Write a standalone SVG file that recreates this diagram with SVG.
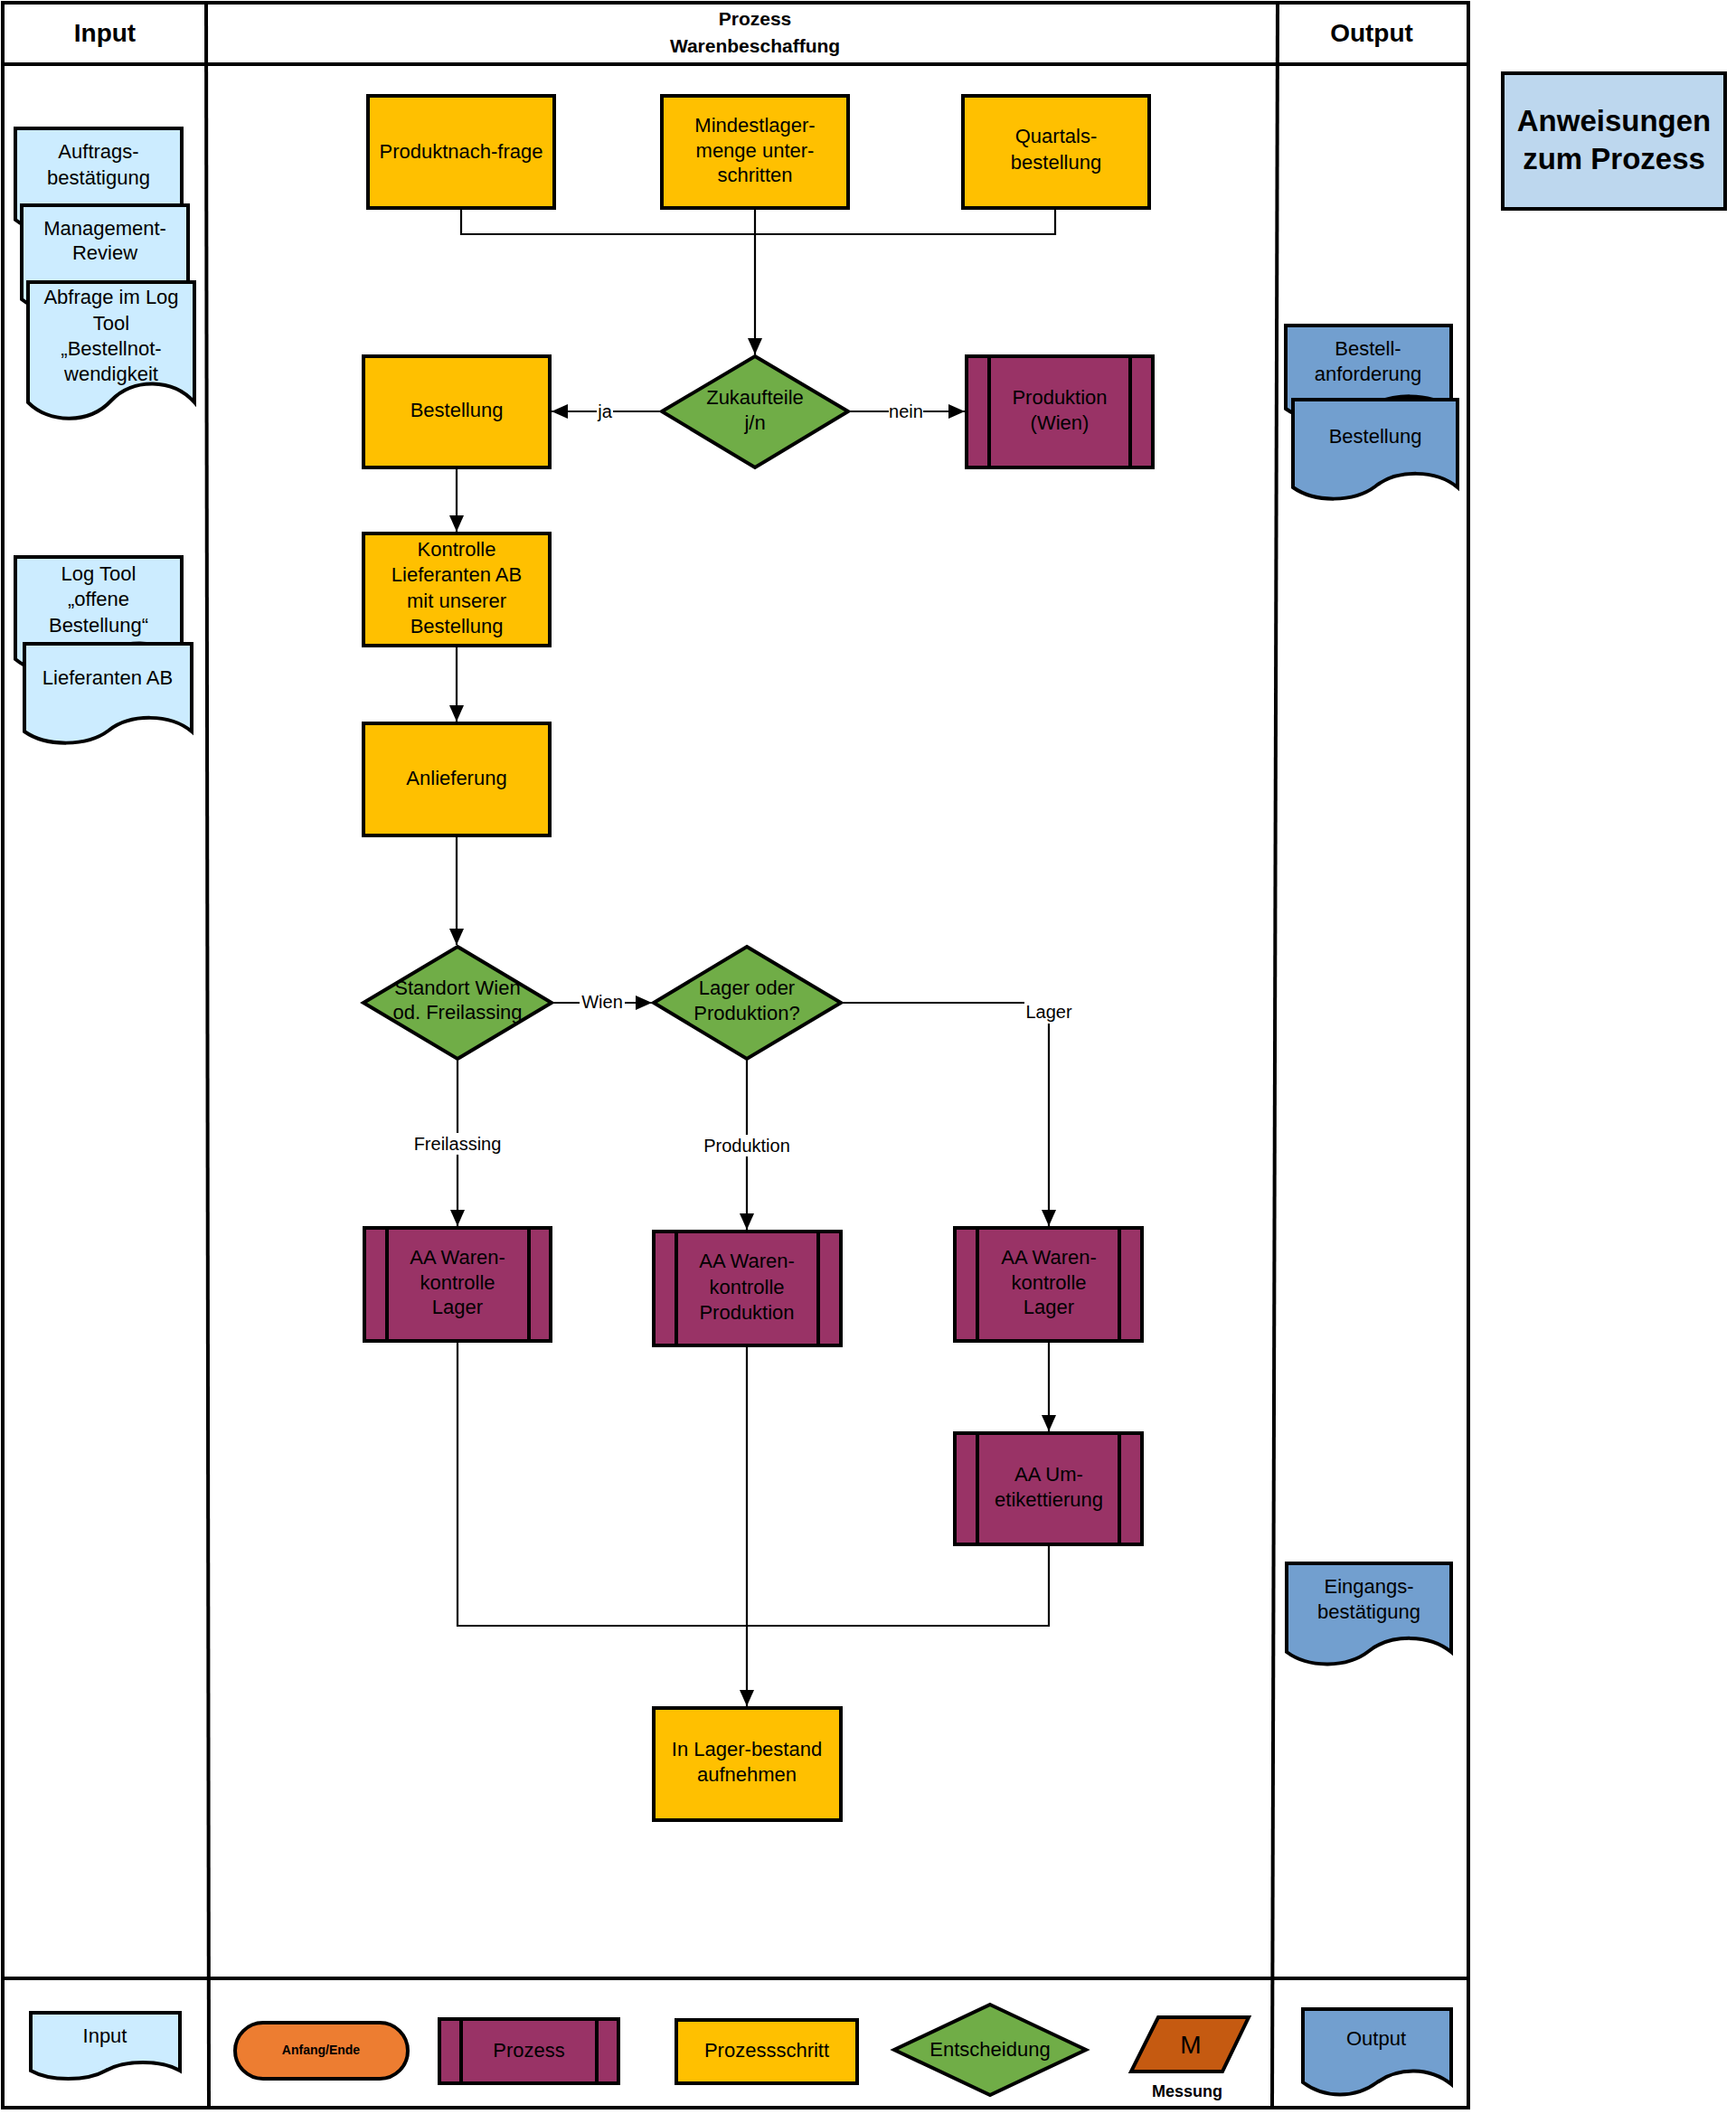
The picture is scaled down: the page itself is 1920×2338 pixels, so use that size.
<svg xmlns="http://www.w3.org/2000/svg" width="1920" height="2338" viewBox="0 0 1920 2338">
<defs>
<marker id="arr" viewBox="0 0 18 16" refX="18" refY="8" markerWidth="18" markerHeight="16" markerUnits="userSpaceOnUse" orient="auto">
<path d="M0,0 L18,8 L0,16 Z" fill="#000"/>
</marker>
<style>
.frame{fill:none;stroke:#000;stroke-width:4}
.step{fill:#FFC000;stroke:#000;stroke-width:4}
.proc{fill:#993366;stroke:#000;stroke-width:4}
.pl{stroke:#000;stroke-width:4}
.dec{fill:#70AD47;stroke:#000;stroke-width:4}
.din{fill:#CCECFF;stroke:#000;stroke-width:4}
.dout{fill:#729FCF;stroke:#000;stroke-width:4}
.con{fill:none;stroke:#000;stroke-width:2.2}
.t{font-family:"Liberation Sans",Arial,sans-serif;font-size:22px;fill:#000;text-anchor:middle}
.lbl{font-family:"Liberation Sans",Arial,sans-serif;font-size:20px;fill:#000;text-anchor:middle}
.h{font-family:"Liberation Sans",Arial,sans-serif;font-size:28px;font-weight:bold;fill:#000;text-anchor:middle}
.h2{font-family:"Liberation Sans",Arial,sans-serif;font-size:21px;font-weight:bold;fill:#000;text-anchor:middle}
.big{font-family:"Liberation Sans",Arial,sans-serif;font-size:33px;font-weight:bold;fill:#000;text-anchor:middle}
.lbg{fill:#fff}
</style>
</defs>
<rect width="1920" height="2338" fill="#fff"/>

<g id="frame">
<rect class="frame" x="3" y="3" width="1621" height="2328"/>
<line class="frame" x1="3" y1="71" x2="1624" y2="71"/>
<line class="frame" x1="3" y1="2188" x2="1624" y2="2188"/>
<line class="frame" x1="228" y1="3" x2="231" y2="2331"/>
<line class="frame" x1="1413" y1="3" x2="1407" y2="2331"/>
<text class="h" x="116" y="46">Input</text>
<text class="h2" x="835" y="28">Prozess</text>
<text class="h2" x="835" y="58">Warenbeschaffung</text>
<text class="h" x="1517" y="46">Output</text>
</g>

<g id="anweisungen">
<rect x="1662" y="81" width="246" height="150" fill="#BDD7EE" stroke="#000" stroke-width="4"/>
<text class="big" x="1785" y="145">Anweisungen</text>
<text class="big" x="1785" y="187">zum Prozess</text>
</g>

<g id="connectors">
<path class="con" d="M510,230 V259 H1167 V230"/>
<path class="con" d="M835,230 V392" marker-end="url(#arr)"/>
<path class="con" d="M732,455 H610" marker-end="url(#arr)"/>
<path class="con" d="M938,455 H1067" marker-end="url(#arr)"/>
<path class="con" d="M505,517 V588" marker-end="url(#arr)"/>
<path class="con" d="M505,714 V798" marker-end="url(#arr)"/>
<path class="con" d="M505,924 V1045" marker-end="url(#arr)"/>
<path class="con" d="M610,1109 H721" marker-end="url(#arr)"/>
<path class="con" d="M930,1109 H1160 V1356" marker-end="url(#arr)"/>
<path class="con" d="M506,1171 V1356" marker-end="url(#arr)"/>
<path class="con" d="M826,1171 V1360" marker-end="url(#arr)"/>
<path class="con" d="M1160,1483 V1583" marker-end="url(#arr)"/>
<path class="con" d="M506,1483 V1798 H1160 V1708"/>
<path class="con" d="M826,1488 V1887" marker-end="url(#arr)"/>
<rect class="lbg" x="660" y="444" width="18" height="22"/>
<text class="lbl" x="669" y="462">ja</text>
<rect class="lbg" x="983" y="444" width="38" height="22"/>
<text class="lbl" x="1002" y="462">nein</text>
<rect class="lbg" x="641" y="1098" width="50" height="22"/>
<text class="lbl" x="666" y="1115">Wien</text>
<rect class="lbg" x="1133" y="1108" width="54" height="24"/>
<text class="lbl" x="1160" y="1126">Lager</text>
<rect class="lbg" x="455" y="1253" width="102" height="24"/>
<text class="lbl" x="506" y="1272">Freilassing</text>
<rect class="lbg" x="777" y="1255" width="98" height="24"/>
<text class="lbl" x="826" y="1274">Produktion</text>
</g>

<g id="n-produktnachfrage">
<rect class="step" x="407" y="106" width="206" height="124"/>
<text class="t" x="510" y="175">Produktnach-frage</text>
</g>
<g id="n-mindestlager">
<rect class="step" x="732" y="106" width="206" height="124"/>
<text class="t" x="835" y="146">Mindestlager-</text>
<text class="t" x="835" y="174">menge unter-</text>
<text class="t" x="835" y="201">schritten</text>
</g>
<g id="n-quartals">
<rect class="step" x="1065" y="106" width="206" height="124"/>
<text class="t" x="1168" y="158">Quartals-</text>
<text class="t" x="1168" y="187">bestellung</text>
</g>
<g id="n-zukaufteile">
<polygon class="dec" points="835,394 938,455 835,517 732,455"/>
<text class="t" x="835" y="447">Zukaufteile</text>
<text class="t" x="835" y="475">j/n</text>
</g>
<g id="n-bestellung">
<rect class="step" x="402" y="394" width="206" height="123"/>
<text class="t" x="505" y="461">Bestellung</text>
</g>
<g id="n-produktion-wien">
<rect class="proc" x="1069" y="394" width="206" height="123"/>
<line class="pl" x1="1094" y1="394" x2="1094" y2="517"/>
<line class="pl" x1="1250" y1="394" x2="1250" y2="517"/>
<text class="t" x="1172" y="447">Produktion</text>
<text class="t" x="1172" y="475">(Wien)</text>
</g>
<g id="n-kontrolle">
<rect class="step" x="402" y="590" width="206" height="124"/>
<text class="t" x="505" y="615">Kontrolle</text>
<text class="t" x="505" y="643">Lieferanten AB</text>
<text class="t" x="505" y="672">mit unserer</text>
<text class="t" x="505" y="700">Bestellung</text>
</g>
<g id="n-anlieferung">
<rect class="step" x="402" y="800" width="206" height="124"/>
<text class="t" x="505" y="868">Anlieferung</text>
</g>
<g id="n-standort">
<polygon class="dec" points="506,1047 610,1109 506,1171 402,1109"/>
<text class="t" x="506" y="1100">Standort Wien</text>
<text class="t" x="506" y="1127">od. Freilassing</text>
</g>
<g id="n-lager-produktion">
<polygon class="dec" points="826,1047 930,1109 826,1171 723,1109"/>
<text class="t" x="826" y="1100">Lager oder</text>
<text class="t" x="826" y="1128">Produktion?</text>
</g>
<g id="n-aa-lager-links">
<rect class="proc" x="403" y="1358" width="206" height="125"/>
<line class="pl" x1="428" y1="1358" x2="428" y2="1483"/>
<line class="pl" x1="585" y1="1358" x2="585" y2="1483"/>
<text class="t" x="506" y="1398">AA Waren-</text>
<text class="t" x="506" y="1426">kontrolle</text>
<text class="t" x="506" y="1453">Lager</text>
</g>
<g id="n-aa-produktion">
<rect class="proc" x="723" y="1362" width="207" height="126"/>
<line class="pl" x1="748" y1="1362" x2="748" y2="1488"/>
<line class="pl" x1="905" y1="1362" x2="905" y2="1488"/>
<text class="t" x="826" y="1402">AA Waren-</text>
<text class="t" x="826" y="1431">kontrolle</text>
<text class="t" x="826" y="1459">Produktion</text>
</g>
<g id="n-aa-lager-rechts">
<rect class="proc" x="1056" y="1358" width="207" height="125"/>
<line class="pl" x1="1081" y1="1358" x2="1081" y2="1483"/>
<line class="pl" x1="1238" y1="1358" x2="1238" y2="1483"/>
<text class="t" x="1160" y="1398">AA Waren-</text>
<text class="t" x="1160" y="1426">kontrolle</text>
<text class="t" x="1160" y="1453">Lager</text>
</g>
<g id="n-umetikettierung">
<rect class="proc" x="1056" y="1585" width="207" height="123"/>
<line class="pl" x1="1081" y1="1585" x2="1081" y2="1708"/>
<line class="pl" x1="1238" y1="1585" x2="1238" y2="1708"/>
<text class="t" x="1160" y="1638">AA Um-</text>
<text class="t" x="1160" y="1666">etikettierung</text>
</g>
<g id="n-lagerbestand">
<rect class="step" x="723" y="1889" width="207" height="124"/>
<text class="t" x="826" y="1942">In Lager-bestand</text>
<text class="t" x="826" y="1970">aufnehmen</text>
</g>

<g id="in-auftrag">
<path class="din" d="M17,142 H201 V243 C177,223 133,223 109,242 C85,262 41,262 17,243 Z"/>
<text class="t" x="109" y="175">Auftrags-</text>
<text class="t" x="109" y="204">bestätigung</text>
</g>
<g id="in-management">
<path class="din" d="M24,227 H208 V331 C184,310 140,310 116,330 C92,350 48,350 24,331 Z"/>
<text class="t" x="116" y="260">Management-</text>
<text class="t" x="116" y="287">Review</text>
</g>
<g id="in-abfrage">
<path class="din" d="M31,312 H215 V445 C191,418 147,418 123,443 C99,469 55,469 31,445 Z"/>
<text class="t" x="123" y="336">Abfrage im Log</text>
<text class="t" x="123" y="365">Tool</text>
<text class="t" x="123" y="393">„Bestellnot-</text>
<text class="t" x="123" y="421">wendigkeit</text>
</g>
<g id="in-logtool">
<path class="din" d="M17,616 H201 V729 C177,706 133,706 109,727 C85,749 41,749 17,729 Z"/>
<text class="t" x="109" y="642">Log Tool</text>
<text class="t" x="109" y="670">„offene</text>
<text class="t" x="109" y="699">Bestellung“</text>
</g>
<g id="in-lieferanten">
<path class="din" d="M27,712 H212 V809 C188,789 144,789 120,808 C96,826 51,826 27,809 Z"/>
<text class="t" x="119" y="757">Lieferanten AB</text>
</g>

<g id="out-bestellanforderung">
<path class="dout" d="M1422,360 H1605 V452 C1581,434 1538,434 1514,451 C1490,469 1446,469 1422,452 Z"/>
<text class="t" x="1513" y="393">Bestell-</text>
<text class="t" x="1513" y="421">anforderung</text>
</g>
<g id="out-bestellung">
<path class="dout" d="M1430,442 H1612 V539 C1588,519 1545,519 1521,538 C1497,556 1454,556 1430,539 Z"/>
<text class="t" x="1521" y="490">Bestellung</text>
</g>
<g id="out-eingang">
<path class="dout" d="M1423,1729 H1605 V1827 C1581,1807 1538,1807 1514,1826 C1490,1845 1447,1845 1423,1827 Z"/>
<text class="t" x="1514" y="1762">Eingangs-</text>
<text class="t" x="1514" y="1790">bestätigung</text>
</g>

<g id="legend-input">
<path class="din" d="M34,2226 H199 V2290 C178,2278 138,2278 117,2290 C96,2302 55,2302 34,2290 Z"/>
<text class="t" x="116" y="2259">Input</text>
</g>
<g id="legend-anfang">
<rect x="260" y="2237" width="191" height="62" rx="31" fill="#ED7D31" stroke="#000" stroke-width="4"/>
<text x="355" y="2272" font-family="Liberation Sans, Arial, sans-serif" font-size="14" font-weight="bold" text-anchor="middle">Anfang/Ende</text>
</g>
<g id="legend-prozess">
<rect class="proc" x="486" y="2233" width="198" height="71"/>
<line class="pl" x1="510" y1="2233" x2="510" y2="2304"/>
<line class="pl" x1="660" y1="2233" x2="660" y2="2304"/>
<text class="t" x="585" y="2275">Prozess</text>
</g>
<g id="legend-prozessschritt">
<rect class="step" x="748" y="2234" width="200" height="70"/>
<text class="t" x="848" y="2275">Prozessschritt</text>
</g>
<g id="legend-entscheidung">
<polygon class="dec" points="1095,2217 1201,2267 1095,2317 989,2267"/>
<text class="t" x="1095" y="2274">Entscheidung</text>
</g>
<g id="legend-messung">
<polygon points="1281,2231 1381,2231 1352,2291 1251,2291" fill="#C55A11" stroke="#000" stroke-width="4"/>
<text x="1317" y="2271" font-family="Liberation Sans, Arial, sans-serif" font-size="28" text-anchor="middle">M</text>
<text x="1313" y="2319" font-family="Liberation Sans, Arial, sans-serif" font-size="18" font-weight="bold" text-anchor="middle">Messung</text>
</g>
<g id="legend-output">
<path class="dout" d="M1441,2222 H1605 V2305 C1581,2286 1547,2286 1523,2303 C1499,2321 1465,2321 1441,2303 Z"/>
<text class="t" x="1522" y="2262">Output</text>
</g>
</svg>
